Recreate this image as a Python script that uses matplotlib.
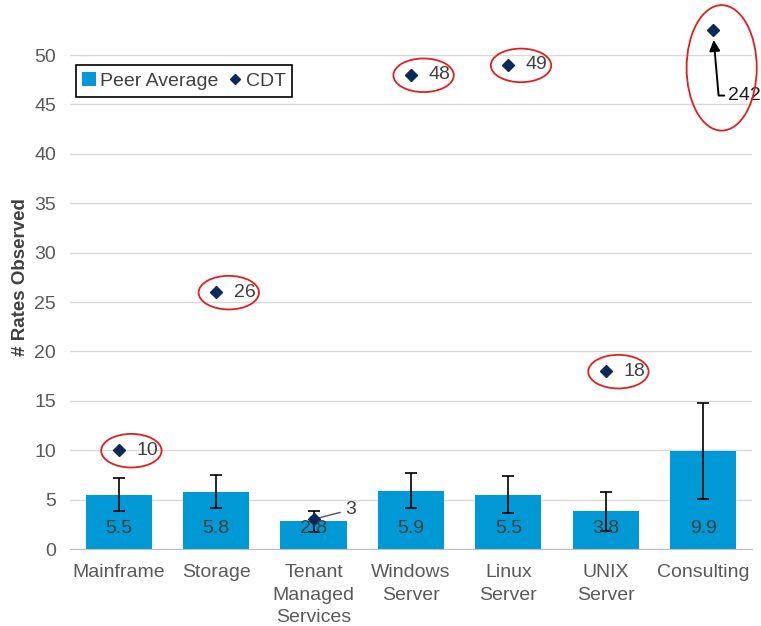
import matplotlib.pyplot as plt
from matplotlib.patches import Ellipse

plt.rcParams['font.family'] = ['Liberation Sans', 'DejaVu Sans']

categories = ['Mainframe', 'Storage', 'Tenant\nManaged\nServices', 'Windows\nServer',
              'Linux\nServer', 'UNIX\nServer', 'Consulting']
peer_avg = [5.5, 5.8, 2.8, 5.9, 5.5, 3.8, 9.9]
peer_err = [1.7, 1.65, 1.05, 1.75, 1.9, 2.0, 4.85]
cdt = [10, 26, 3, 48, 49, 18, 242]
cdt_shown = [10, 26, 3, 48, 49, 18, 52.5]   # consulting capped to fit the axis
cdt_offset = [0, 0, 0, 0, 0, 0, 0.1]

bar_color = '#0099d6'
dot_color = '#0b2a5a'
text_grey = '#404040'
grid_grey = '#d9d9d9'

fig = plt.figure(figsize=(7.61, 6.26), dpi=100)
ax = fig.add_axes([0.092, 0.123, 0.896, 0.868])

x = list(range(len(categories)))
bars = ax.bar(x, peer_avg, width=0.68, color=bar_color, label='Peer Average', zorder=2)
ax.errorbar(x, peer_avg, yerr=peer_err, fmt='none', ecolor='black', elinewidth=1.2,
            capsize=4, capthick=1.2, zorder=3)
xs = [xi + o for xi, o in zip(x, cdt_offset)]
dots, = ax.plot(xs, cdt_shown, linestyle='none', marker='D', markersize=6, color=dot_color,
                label='CDT', zorder=4)

# value labels inside bars
for xi, v in zip(x, peer_avg):
    ax.text(xi, 2.1, f'{v}', ha='center', va='center', fontsize=14, color=text_grey, zorder=5)

# CDT labels with red circles
for i in [0, 1, 3, 4, 5]:
    ax.text(x[i] + 0.18, cdt[i], str(cdt[i]), ha='left', va='center', fontsize=14,
            color=text_grey, zorder=5)
    ax.add_patch(Ellipse((x[i] + 0.13, cdt[i] - 0.05), 0.62, 3.4, fill=False,
                         edgecolor='#e02020', linewidth=1.3, zorder=5))

# tenant label with leader line
ax.annotate('3', xy=(x[2], cdt[2]), xytext=(x[2] + 0.33, 4.0), fontsize=14,
            color=text_grey, va='center', ha='left',
            arrowprops=dict(arrowstyle='-', color='#555555', lw=1,
                            shrinkA=2, shrinkB=2))

# consulting: off-scale value
ax.annotate(str(cdt[6]), xy=(xs[6], cdt_shown[6]), xytext=(x[6] + 0.26, 45.9),
            fontsize=14, color='#1a1a1a', va='center', ha='left',
            arrowprops=dict(arrowstyle='-|>', color='black', lw=1.4,
                            connectionstyle='angle,angleA=0,angleB=95,rad=0',
                            shrinkA=1, shrinkB=7, mutation_scale=16))
ax.add_patch(Ellipse((x[6] + 0.19, 48.7), 0.72, 12.7, fill=False,
                     edgecolor='#e02020', linewidth=1.3, zorder=5, clip_on=False))

ax.set_xlim(-0.5, 6.5)
ax.set_ylim(0, 55)
ax.set_yticks(range(0, 51, 5))
ax.set_xticks(x)
ax.set_xticklabels(categories, fontsize=14, color='#595959', linespacing=1.42)
ax.tick_params(axis='y', labelsize=14, labelcolor='#595959', length=0, pad=10)
ax.tick_params(axis='x', length=0, pad=11)
ax.set_ylabel('# Rates Observed', fontsize=13.5, color='#404040', fontweight='bold', labelpad=4)

ax.grid(axis='y', color=grid_grey, linewidth=1, zorder=0)
ax.set_axisbelow(True)
for s in ['top', 'right', 'left']:
    ax.spines[s].set_visible(False)
ax.spines['bottom'].set_color('#bfbfbf')

leg = ax.legend(handles=[bars, dots], loc='upper left', bbox_to_anchor=(-0.006, 0.908),
                ncol=2, fontsize=14, frameon=True, fancybox=False, edgecolor='black',
                handlelength=0.7, handletextpad=0.2, columnspacing=0.5, borderpad=0.35,
                framealpha=1, markerscale=0.9)
leg.get_frame().set_linewidth(1.2)
for t in leg.get_texts():
    t.set_color(text_grey)

fig.savefig('out.png', dpi=100)
